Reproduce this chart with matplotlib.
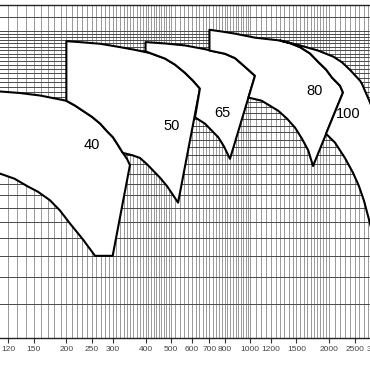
import matplotlib
matplotlib.use("Agg")
import matplotlib.pyplot as plt
from matplotlib.patches import Polygon
from matplotlib.ticker import FixedLocator, NullLocator, FixedFormatter

plt.rcParams['font.family'] = ['Liberation Sans Narrow', 'Liberation Sans', 'DejaVu Sans']

# flow (x) tick labels
q_ticks = [120, 150, 200, 250, 300, 400, 500, 600, 700, 800, 1000, 1200, 1500, 2000, 2500, 3000]

# field outlines, (flow, head)
q40 = [100, 112, 133, 159, 200, 216, 231, 250, 269, 285, 301, 314, 328, 340, 349,
       300, 257, 231, 206, 189, 173, 156, 142, 127, 112, 100]
h40 = [24.4, 24.0, 23.7, 23.2, 22.2, 21.3, 20.4, 19.4, 18.3, 17.2, 16.3, 15.3, 14.3, 13.6, 12.9,
       6.0, 6.0, 6.9, 7.9, 8.8, 9.6, 10.3, 10.8, 11.5, 12.0, 12.5]

q50 = [200, 200, 225, 269, 320, 365, 416, 474, 518, 565, 606, 644,
       532, 483, 454, 405, 381, 358, 328, 314, 301, 285, 269, 250, 231, 216]
h50 = [22.2, 36.7, 36.4, 35.9, 34.9, 34.1, 33.2, 31.7, 30.1, 28.1, 26.3, 24.6,
       9.4, 10.8, 11.6, 13.0, 13.7, 14.0, 14.3, 15.3, 16.3, 17.2, 18.3, 19.4, 20.4, 21.3]

q65 = [400, 400, 474, 565, 673, 802, 876, 928, 981, 1043,
       838, 795, 757, 673, 617, 644, 606, 565, 518, 474, 416]
h65 = [33.7, 36.4, 36.0, 35.4, 34.3, 33.0, 31.8, 30.3, 28.9, 27.4,
       13.6, 15.1, 16.3, 18.3, 19.3, 24.6, 26.3, 28.1, 30.1, 31.7, 33.2]

q80 = [700, 700, 781, 876, 1043, 1298, 1417, 1547, 1688, 1827, 1943, 2047, 2196, 2254,
       1734, 1663, 1575, 1481, 1380, 1279, 1106, 985, 1043, 981, 928, 876, 802]
h80 = [33.9, 40.4, 39.8, 39.1, 37.8, 36.9, 36.1, 34.9, 33.1, 30.6, 28.9, 27.0, 25.2, 23.8,
       12.8, 14.6, 16.1, 17.7, 19.1, 20.4, 22.2, 22.8, 27.4, 28.9, 30.3, 31.8, 33.0]

q100 = [1298, 1547, 1811, 2071, 2235, 2397, 2616, 2662, 2855, 3009, 3400,
        3400, 3009, 2855, 2709, 2593, 2460, 2293, 2101, 1943,
        2254, 2196, 2047, 1943, 1827, 1688, 1547, 1417]
h100 = [36.9, 35.4, 33.9, 32.2, 30.7, 28.8, 26.3, 25.6, 21.9, 19.2, 18.0,
        5.5, 6.5, 7.9, 9.55, 10.8, 12.1, 13.7, 15.6, 16.8,
        23.8, 25.2, 27.0, 28.9, 30.6, 33.1, 34.9, 36.1]

fields = [("40", q40, h40, 250, 15.3),
          ("50", q50, h50, 503, 18.0),
          ("65", q65, h65, 785, 20.1),
          ("80", q80, h80, 1764, 24.2),
          ("100", q100, h100, 2369, 19.8)]

# grid spacing of the chart paper
grid_q = (list(range(110, 500, 10)) + list(range(500, 1000, 20))
          + list(range(1000, 2000, 50)) + list(range(2000, 3300, 100)))
grid_h = list(range(4, 41)) + [45]

fig = plt.figure(figsize=(3.7, 3.7), dpi=100)
ax = fig.add_axes([-12.8 / 370, 32 / 370, 395.8 / 370, 333.5 / 370])
ax.set_xscale('log')
ax.set_yscale('log')
ax.set_xlim(100, 3200)
ax.set_ylim(3, 50)

ax.vlines(grid_q, 3, 50, colors='#999999', linewidth=0.7, zorder=0)
ax.hlines(grid_h, 100, 3200, colors='#4a4a4a', linewidth=0.7, zorder=0)

for name, q, h, lx, ly in fields:
    ax.add_patch(Polygon(list(zip(q, h)), closed=True, facecolor='white',
                         edgecolor='black', linewidth=1.5, joinstyle='round', zorder=2))
    ax.text(lx, ly, name, ha='center', va='center', fontsize=10.5, zorder=3)

ax.xaxis.set_major_locator(FixedLocator(q_ticks))
ax.xaxis.set_major_formatter(FixedFormatter([str(v) for v in q_ticks]))
ax.xaxis.set_minor_locator(NullLocator())
ax.yaxis.set_major_locator(NullLocator())
ax.yaxis.set_minor_locator(NullLocator())
ax.tick_params(axis='x', length=3.5, width=0.8, color='#333333', pad=2.5,
               labelsize=6, labelcolor='#444444')
for s in ax.spines.values():
    s.set_linewidth(1.0)
    s.set_color('#222222')

fig.savefig('out.png', dpi=100)
